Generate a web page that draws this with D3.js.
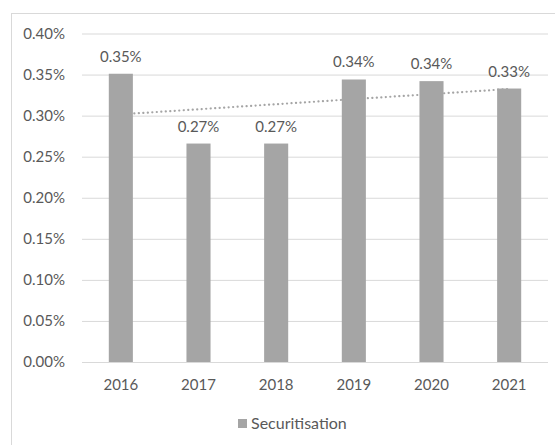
<!DOCTYPE html>
<html>
<head>
<meta charset="utf-8">
<script src="https://cdn.jsdelivr.net/npm/d3@7"></script>
<style>
    body { margin: 0; background: #fff; overflow: hidden; }
    svg { display: block; }
    text { font-family: Lato, "Open Sans", sans-serif; fill: #595959; }
</style>
</head>
<body>
<div id="chart"></div>
<script>
"use strict";

// chart data (values in percent)
const years = ["2016", "2017", "2018", "2019", "2020", "2021"];
const securitisation = [0.351, 0.266, 0.266, 0.344, 0.342, 0.333];
const valueLabels = ["0.35%", "0.27%", "0.27%", "0.34%", "0.34%", "0.33%"];
const yTicks = [0, 0.05, 0.1, 0.15, 0.2, 0.25, 0.3, 0.35, 0.4];
const seriesName = "Securitisation";

const msm = {
    width: 555,
    height: 445,
    left: 82,
    right: 548,
    top: 33.5,
    bottom: 362
}

const svg = d3.select("#chart")
    .append("svg")
    .attr("width", msm.width)
    .attr("height", msm.height);

// outer chart frame (runs off the right and bottom edges)
svg.append("rect")
    .attr("x", 11.5)
    .attr("y", 13.5)
    .attr("width", 560)
    .attr("height", 440)
    .attr("fill", "none")
    .attr("stroke", "#d9d9d9");

let xScale = d3.scaleBand()
    .domain(years)
    .range([msm.left, msm.right])
    .paddingInner(0.69)
    .paddingOuter(0.345);

let yScale = d3.scaleLinear()
    .domain([0, 0.4])
    .range([msm.bottom, msm.top]);

// gridlines + y labels
let yAxis = d3.axisLeft(yScale)
    .tickValues(yTicks)
    .tickSize(-(msm.right - msm.left))
    .tickFormat((d) => d.toFixed(2) + "%");
let gy = svg.append("g")
    .attr("transform", "translate(" + msm.left + ",0)")
    .call(yAxis);
gy.select(".domain").remove();
gy.selectAll(".tick line").attr("stroke", "#d9d9d9").attr("stroke-width", 1);
gy.selectAll(".tick text")
    .attr("x", -17)
    .style("font-size", "15px")
    .style("font-family", "Lato, sans-serif")
    .attr("fill", "#595959");

// x labels
let xAxis = d3.axisBottom(xScale).tickSize(0);
let gx = svg.append("g")
    .attr("transform", "translate(0," + msm.bottom + ")")
    .call(xAxis);
gx.select(".domain").remove();
gx.selectAll(".tick text")
    .attr("y", 17)
    .style("font-size", "15px")
    .style("font-family", "Lato, sans-serif")
    .attr("fill", "#595959");

// linear trendline (least squares), drawn behind bars
let xs = years.map((d, i) => i);
let mx = d3.mean(xs), my = d3.mean(securitisation);
let slope = d3.sum(xs, (x, i) => (x - mx) * (securitisation[i] - my)) / d3.sum(xs, (x) => (x - mx) * (x - mx));
let icpt = my - slope * mx;
let cx = (i) => xScale(years[i]) + xScale.bandwidth() / 2;
svg.append("line")
    .attr("x1", cx(0))
    .attr("y1", yScale(icpt))
    .attr("x2", cx(years.length - 1))
    .attr("y2", yScale(icpt + slope * (years.length - 1)))
    .attr("stroke", "#a5a5a5")
    .attr("stroke-width", 2.2)
    .attr("stroke-linecap", "round")
    .attr("stroke-dasharray", "0.1,4.4");

// bars
svg.selectAll(".bar")
    .data(securitisation)
    .enter()
    .append("rect")
    .attr("class", "bar")
    .attr("x", (d, i) => xScale(years[i]))
    .attr("y", (d) => yScale(d))
    .attr("width", xScale.bandwidth())
    .attr("height", (d) => yScale(0) - yScale(d))
    .attr("fill", "#a5a5a5");

// data labels
svg.selectAll(".lbl")
    .data(securitisation)
    .enter()
    .append("text")
    .attr("class", "lbl")
    .attr("x", (d, i) => cx(i))
    .attr("y", (d) => yScale(d) - 12)
    .attr("text-anchor", "middle")
    .style("font-size", "15px")
    .text((d, i) => valueLabels[i]);

// legend
svg.append("rect")
    .attr("x", 238)
    .attr("y", 419)
    .attr("width", 9)
    .attr("height", 9)
    .attr("fill", "#a5a5a5");
svg.append("text")
    .attr("x", 251)
    .attr("y", 429)
    .style("font-size", "16px")
    .text(seriesName);
</script>
</body>
</html>
